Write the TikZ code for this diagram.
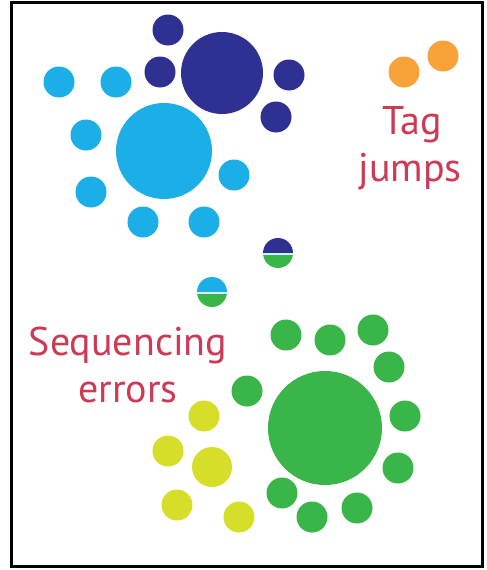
\documentclass[tikz,border=0pt]{standalone}
\usepackage{fontspec}
\newfontfamily\labfont{PT Sans}
\definecolor{navy}{HTML}{2E3192}
\definecolor{sky}{HTML}{1CAEE6}
\definecolor{orng}{HTML}{F8A33A}
\definecolor{grn}{HTML}{3AB54A}
\definecolor{ylw}{HTML}{D6DE2A}
\definecolor{txt}{HTML}{CC3A55}
\begin{document}
\begin{tikzpicture}[x=1pt,y=-1pt,
  dot/.style={circle,inner sep=0pt,minimum size=31pt,fill=#1},
  big/.style={circle,inner sep=0pt,fill=#1},
  lab/.style={font=\labfont\fontsize{40}{44}\selectfont,text=txt,inner sep=0pt}]
\useasboundingbox (0,0) rectangle (487,570);
\fill[white] (0,0) rectangle (487,570);
\draw[line width=3pt] (11,2) rectangle (482,566);
% navy cluster
\node[big=navy,minimum size=82pt] (nbig) at (222,73) {};
\node[dot=navy] (n1) at (168,30) {};
\node[dot=navy] (n2) at (160,72) {};
\node[dot=navy] (n3) at (289,75) {};
\node[dot=navy] (n4) at (276,117) {};
% light blue cluster
\node[big=sky,minimum size=96pt] (sbig) at (164,151) {};
\node[dot=sky] (s1) at (59,82) {};
\node[dot=sky] (s2) at (116,82) {};
\node[dot=sky] (s3) at (86,135) {};
\node[dot=sky] (s4) at (234,175) {};
\node[dot=sky] (s5) at (91,192) {};
\node[dot=sky] (s6) at (143,222) {};
\node[dot=sky] (s7) at (204,222) {};
% orange
\node[dot=orng] (o1) at (404,72) {};
\node[dot=orng] (o2) at (443,56) {};
% split circles
\begin{scope}
  \clip (278,253) circle (15);
  \fill[navy] (262,237) rectangle (294,253);
  \fill[grn] (262,253) rectangle (294,269);
  \draw[white!80!sky,line width=1.6pt] (262,254) -- (294,254);
\end{scope}
\begin{scope}
  \clip (212,292) circle (15);
  \fill[sky] (196,276) rectangle (228,292);
  \fill[grn] (196,292) rectangle (228,308);
  \draw[white!80!sky,line width=1.6pt] (196,293) -- (228,293);
\end{scope}
% green cluster
\node[big=grn,minimum size=114pt] (gbig) at (325,428) {};
\node[dot=grn] (g1) at (286,335) {};
\node[dot=grn] (g2) at (330,340) {};
\node[dot=grn] (g3) at (373,330) {};
\node[dot=grn] (g4) at (389,367) {};
\node[dot=grn] (g5) at (247,391) {};
\node[dot=grn] (g6) at (405,416) {};
\node[dot=grn] (g7) at (398,468) {};
\node[dot=grn] (g8) at (282,493) {};
\node[dot=grn] (g9) at (312,517) {};
\node[dot=grn] (g10) at (357,508) {};
% yellow cluster
\node[dot=ylw] (y1) at (204,416) {};
\node[dot=ylw] (y2) at (168,451) {};
\node[dot=ylw,minimum size=40pt] (y3) at (212,467) {};
\node[dot=ylw] (y4) at (177,505) {};
\node[dot=ylw] (y5) at (239,517) {};
% labels
\node[lab] (t1) at (412,125) {Tag};
\node[lab] (t2) at (410,172) {jumps};
\node[lab] (t3) at (128,345) {Sequencing};
\node[lab] (t4) at (128,392) {errors};
\end{tikzpicture}
\end{document}
